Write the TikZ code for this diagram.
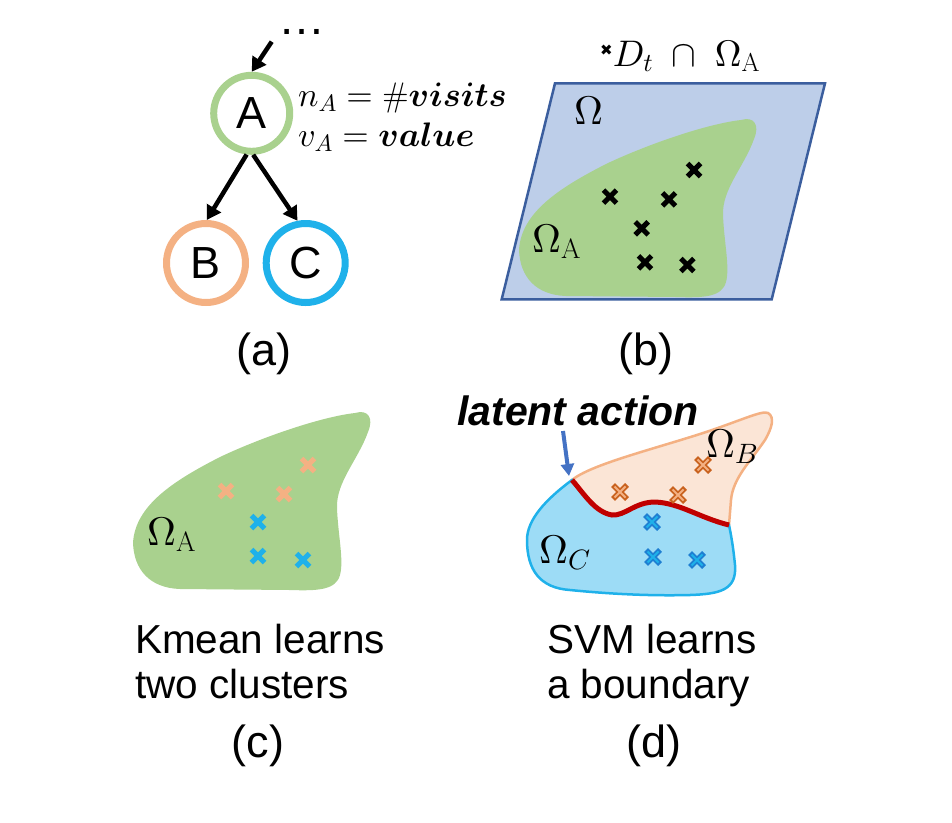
\documentclass[tikz,border=0pt]{standalone}
\usepackage{amsmath,bm}
\usepackage{fontspec}
\DeclareFontShape{OML}{cmm}{m}{it}{<->cmmi10}{}
\DeclareFontShape{OML}{cmm}{b}{it}{<->cmmib10}{}
\DeclareFontShape{OT1}{cmr}{m}{n}{<->cmr10}{}
\DeclareFontShape{OT1}{cmr}{bx}{n}{<->cmbx10}{}
\DeclareFontShape{OMS}{cmsy}{m}{n}{<->cmsy10}{}
\DeclareFontShape{OMS}{cmsy}{b}{n}{<->cmbsy10}{}
\DeclareFontShape{OMX}{cmex}{m}{n}{<->cmex10}{}
\usetikzlibrary{arrows.meta}
\newfontfamily\arialf{Liberation Sans}
\newfontfamily\djv{DejaVu Sans}
\definecolor{ringG}{HTML}{A9D18E}
\definecolor{ringO}{HTML}{F4B183}
\definecolor{ringB}{HTML}{1FB1EA}
\definecolor{paraF}{HTML}{BDCEE9}
\definecolor{paraS}{HTML}{3B5E9E}
\definecolor{regO}{HTML}{FBE5D6}
\definecolor{regB}{HTML}{9DDCF6}
\definecolor{darkO}{HTML}{C9621E}
\definecolor{darkB}{HTML}{1E7FD2}
\definecolor{redB}{HTML}{C00000}
\definecolor{arrB}{HTML}{4472C4}
\tikzset{
  treenode/.style={circle, line width=7pt, inner sep=0pt, font=\arialf\fontsize{45}{54}\selectfont},
  treearrow/.style={line width=4.5pt, -{Triangle[length=14pt,width=16pt]}},
  sublabel/.style={anchor=base, font=\arialf\fontsize{45}{54}\selectfont, inner sep=0pt},
  capline/.style={anchor=base west, font=\arialf\fontsize{40.5}{45}\selectfont, inner sep=0pt},
  mathlbl/.style={anchor=base west, font=\fontsize{40}{48}\selectfont, inner sep=0pt},
  pics/xcr/.style={code={\draw[line width=5pt,#1] (-6.5,-6.5) -- (6.5,6.5) (-6.5,6.5) -- (6.5,-6.5);}},
  pics/ocr/.style 2 args={code={\draw[line width=5.5pt,#1] (-7,-7) -- (7,7) (-7,7) -- (7,-7);
      \draw[line width=2pt,#2] (-5.5,-5.5) -- (5.5,5.5) (-5.5,5.5) -- (5.5,-5.5);}},
  pics/blob/.style={code={\fill[ringG] (133,543) .. controls (135,505) and (175,480) .. (220,457)
      .. controls (260,438) and (320,417) .. (355,413)
      .. controls (368,409) and (374,418) .. (368,432)
      .. controls (358,460) and (336,482) .. (337,508)
      .. controls (338,535) and (344,560) .. (340,575)
      .. controls (336,590) and (318,591) .. (290,590)
      -- (180,589) .. controls (150,588) and (134,570) .. cycle;}}
}
\begin{document}
\begin{tikzpicture}[x=1pt,y=-1pt]
\useasboundingbox (0,0) rectangle (952,822);
% ---------- (a) ----------
\node[treenode, draw=ringG, minimum size=76pt] (A) at (251.7,113.3) {A};
\node[treenode, draw=ringO, minimum size=79pt] (B) at (206,263) {B};
\node[treenode, draw=ringB, minimum size=79pt] (C) at (305.7,263) {C};
\node[anchor=base, inner sep=0pt, text height=5pt, text depth=0pt, font=\arialf\fontsize{47}{50}\selectfont] (dots) at (301.7,34) {…};
\coordinate (top) at (271.7,41.7);
\draw[treearrow] (top) -- (A.north);
\draw[treearrow] (A.-97) -- (B.89);
\draw[treearrow] (A.-88) -- (C.101);
\node[anchor=base west, inner sep=0pt, font=\fontsize{34}{40}\selectfont] (nA) at (298,106.7) {$n_A = \boldsymbol{\#visits}$};
\node[anchor=base west, inner sep=0pt, font=\fontsize{34}{40}\selectfont] (vA) at (298,146.7) {$v_A = \boldsymbol{value}$};
\node[sublabel] (capa) at (264,365.5) {(a)};
% ---------- (b) ----------
\draw[fill=paraF, draw=paraS, line width=2.5pt] (555,83.3) -- (825,83.3) -- (771.7,299.3) -- (501.7,299.3) -- cycle;
\pic at (386,-293) {blob};
\node[anchor=base west, inner sep=0pt, font=\fontsize{37}{44}\selectfont] (titleb) at (600,66)
  {\raisebox{11pt}{\djv\fontsize{15}{15}\selectfont ✖}$D_t\;\cap\;\Omega_{\mathrm{A}}$};
\node[mathlbl] (Om) at (574,124) {$\Omega$};
\node[mathlbl] (OmA) at (532,252) {$\Omega_{\mathrm{A}}$};
\foreach \p in {(694,170),(610,196.7),(669,199.3),(641.7,228.3),(645,262.3),(687.3,265)}
  \pic at \p {xcr=black};
\node[sublabel] (capb) at (646,365.5) {(b)};
% ---------- (c) ----------
\pic at (0,0) {blob};
\node[mathlbl] (OmAc) at (147,545) {$\Omega_{\mathrm{A}}$};
\foreach \p in {(308,465),(226,491),(284,494)} \pic at \p {xcr=ringO};
\foreach \p in {(258,522),(258,556),(303,560)} \pic at \p {xcr=ringB};
\node[capline] (c1) at (135,653) {Kmean learns};
\node[capline] (c2) at (135,698) {two clusters};
\node[sublabel] (capc) at (258,757) {(c)};
% ---------- (d) ----------
\draw[fill=regO, draw=ringO, line width=2.5pt]
  (572,480) .. controls (590,465) and (650,450) .. (700,434)
  .. controls (740,421) and (762,410) .. (768,413)
  .. controls (775,417) and (772,428) .. (765,440)
  .. controls (750,462) and (733,478) .. (731,500) -- (729,525)
  .. controls (700,518) and (680,503) .. (655,502)
  .. controls (635,502) and (625,516) .. (612,515)
  .. controls (595,512) and (585,495) .. (572,480) -- cycle;
\draw[fill=regB, draw=ringB, line width=2.5pt]
  (572,480) .. controls (545,500) and (527,520) .. (527,540)
  .. controls (527,570) and (540,588) .. (570,590)
  .. controls (610,594) and (650,596) .. (690,595)
  .. controls (720,594) and (737,590) .. (735,565)
  .. controls (733,545) and (731,535) .. (729,525)
  .. controls (700,518) and (680,503) .. (655,502)
  .. controls (635,502) and (625,516) .. (612,515)
  .. controls (595,512) and (585,495) .. (572,480) -- cycle;
\draw[redB, line width=5pt] (572,480) .. controls (585,495) and (595,512) .. (612,515)
  .. controls (625,516) and (635,502) .. (655,502)
  .. controls (680,503) and (700,518) .. (729,525);
\node[anchor=base west, inner sep=0pt, font=\arialf\bfseries\itshape\fontsize{41}{46}\selectfont] (lat) at (457,425) {latent action};
\coordinate (arrS) at (563,431);
\coordinate (arrE) at (569,476);
\draw[arrB, line width=4pt, -{Triangle[length=12pt,width=13pt]}] (arrS) -- (arrE);
\node[mathlbl] (OmB) at (706,457) {$\Omega_B$};
\node[mathlbl] (OmC) at (539,563) {$\Omega_C$};
\foreach \p in {(703,465),(620,492),(678,495)} \pic at \p {ocr={darkO}{ringO}};
\foreach \p in {(652,522),(653,557),(697,560)} \pic at \p {ocr={darkB}{ringB}};
\node[capline] (d1) at (547,653) {SVM learns};
\node[capline] (d2) at (547,698) {a boundary};
\node[sublabel] (capd) at (654,757) {(d)};
\end{tikzpicture}
\end{document}
